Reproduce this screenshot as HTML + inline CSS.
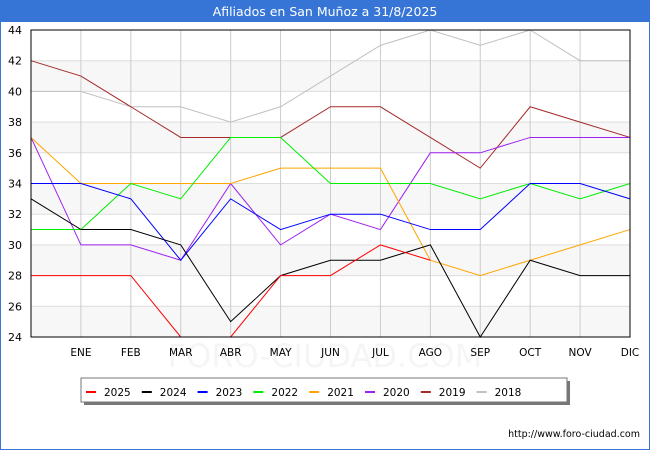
<!DOCTYPE html>
<html><head><meta charset="utf-8"><style>
body{margin:0;width:650px;height:450px;overflow:hidden;background:#fff;font-family:"DejaVu Sans","Liberation Sans",sans-serif}
svg text{font-family:"DejaVu Sans","Liberation Sans",sans-serif}
</style></head><body>
<svg id="c" width="650" height="450" xmlns="http://www.w3.org/2000/svg">
<rect x="0" y="0" width="650" height="450" fill="#fff" stroke="#3a75d4" stroke-width="2"/>
<rect x="0" y="0" width="650" height="22" fill="#3675d6"/>
<text x="325" y="16" text-anchor="middle" font-size="12.5" fill="#fff">Afiliados en San Muñoz a 31/8/2025</text>
<g id="grid"></g>
<text x="325" y="367" text-anchor="middle" font-size="32" fill="#000" fill-opacity="0.04">FORO-CIUDAD.COM</text>
<g id="series"></g>
<rect x="31" y="30" width="599" height="307" fill="none" stroke="#000" stroke-width="1"/>
<g id="legend"></g>
<text x="640" y="437" text-anchor="end" font-size="9.5" fill="#000">http://www.foro-ciudad.com</text>
</svg>
<script>
const months = ["", "ENE","FEB","MAR","ABR","MAY","JUN","JUL","AGO","SEP","OCT","NOV","DIC"];
const yTicks = [24,26,28,30,32,34,36,38,40,42,44];
const seriesNames = ["2025","2024","2023","2022","2021","2020","2019","2018"];
const seriesColors = ["#ff0000","#000000","#0000ff","#00ee00","#ffa500","#a020f0","#a52a2a","#c0c0c0"];
const s2025 = [28,28,28,24,24,28,28,30,29];
const s2024 = [33,31,31,30,25,28,29,29,30,24,29,28,28];
const s2023 = [34,34,33,29,33,31,32,32,31,31,34,34,33];
const s2022 = [31,31,34,33,37,37,34,34,34,33,34,33,34];
const s2021 = [37,34,34,34,34,35,35,35,29,28,29,30,31];
const s2020 = [37,30,30,29,34,30,32,31,36,36,37,37,37];
const s2019 = [42,41,39,37,37,37,39,39,37,35,39,38,37];
const s2018 = [40,40,39,39,38,39,41,43,44,43,44,42,42];
const allSeries = [s2025,s2024,s2023,s2022,s2021,s2020,s2019,s2018];

const NS="http://www.w3.org/2000/svg";
const X0=31,X1=630,Y0=337,Y1=30;
const xs=i=>X0+(X1-X0)*i/(months.length-1);
const ys=v=>Y0-(v-24)/(44-24)*(Y0-Y1);
function mk(t,a,p){const e=document.createElementNS(NS,t);for(const k in a)e.setAttribute(k,a[k]);p.appendChild(e);return e;}
const grid=document.getElementById('grid');
for(let i=0;i<yTicks.length-1;i++){
  if(i%2===0){const r=mk('rect',{x:X0,y:ys(yTicks[i+1]),width:X1-X0,height:ys(yTicks[i])-ys(yTicks[i+1]),fill:'#f7f7f7'},grid);
  
  }
}
yTicks.forEach(v=>{
  const l=mk('line',{x1:X0,x2:X1,y1:ys(v),y2:ys(v),stroke:'#dddddd'},grid);
  
  
  const t=mk('text',{x:22,y:ys(v)+4,'text-anchor':'end','font-size':11,fill:'#000'},grid);t.textContent=v;
  
  
});
months.forEach((m,i)=>{
  const l=mk('line',{x1:xs(i),x2:xs(i),y1:Y1,y2:Y0,stroke:'#cccccc'},grid);
  
  
  if(m){const t=mk('text',{x:xs(i),y:356,'text-anchor':'middle','font-size':10.5,fill:'#000'},grid);t.textContent=m;
  
  }
});
const sg=document.getElementById('series');
for(let k=allSeries.length-1;k>=0;k--){
  const pts=allSeries[k].map((v,i)=>xs(i)+','+ys(v)).join(' ');
  const p=mk('polyline',{points:pts,fill:'none',stroke:seriesColors[k],'stroke-width':1},sg);
  
  
}
const lg=document.getElementById('legend');
const sh=mk('rect',{x:84,y:381,width:486,height:24,fill:'#777'},lg);


const box=mk('rect',{x:81,y:378,width:486,height:24,fill:'#fff',stroke:'#777'},lg);


seriesNames.forEach((n,i)=>{
  const x=86+i*55.8;
  const s=mk('rect',{x:x,y:391,width:10,height:2,fill:seriesColors[i]},lg);
  
  
  const t=mk('text',{x:x+18,y:396,'font-size':10.5,fill:'#000'},lg);t.textContent=n;
  
  
});
</script>
</body></html>
